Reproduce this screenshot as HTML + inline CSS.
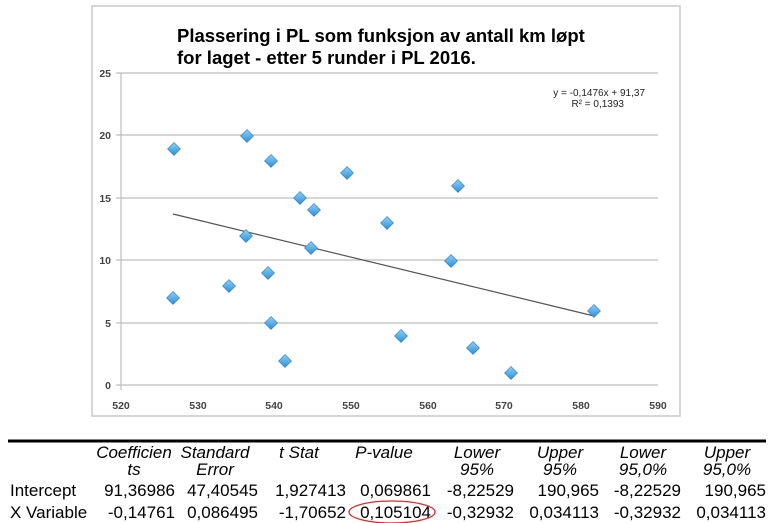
<!DOCTYPE html>
<html><head><meta charset="utf-8"><style>
body{margin:0;background:#fff;}
svg{display:block;font-family:"Liberation Sans",Arial,sans-serif;}
</style></head><body>
<svg width="768" height="523" viewBox="0 0 768 523">
<defs>
<linearGradient id="g" x1="0" y1="0" x2="0" y2="1"><stop offset="0" stop-color="#8fd0f5"/><stop offset="1" stop-color="#2f8fd6"/></linearGradient>
<symbol id="d" viewBox="-7 -7 14 14" overflow="visible"><polygon points="0,-6.5 6.5,0 0,6.5 -6.5,0" fill="url(#g)" stroke="#2a7cc0" stroke-width="0.6"/></symbol>
</defs>
<rect x="92" y="6" width="588" height="410" fill="#fff" stroke="#c8c8c8" stroke-width="1.5"/>
<text x="177" y="42" font-size="18.5" font-weight="bold" fill="#000">Plassering i PL som funksjon av antall km løpt</text>
<text x="177" y="64" font-size="18.5" font-weight="bold" fill="#000">for laget - etter 5 runder i PL 2016.</text>
<g stroke="#bdbdbd" stroke-width="1.2">
<line x1="116" y1="73" x2="658" y2="73"/><line x1="116" y1="135" x2="658" y2="135"/><line x1="116" y1="198" x2="658" y2="198"/><line x1="116" y1="260" x2="658" y2="260"/><line x1="116" y1="323" x2="658" y2="323"/><line x1="116" y1="385" x2="658" y2="385"/>
<line x1="121" y1="73" x2="121" y2="390"/>
</g>
<g font-size="10.5" font-weight="bold" fill="#444" text-anchor="end">
<text x="111" y="77">25</text><text x="111" y="139">20</text><text x="111" y="202">15</text><text x="111" y="264">10</text><text x="111" y="327">5</text><text x="111" y="389">0</text>
</g>
<g font-size="10.5" font-weight="bold" fill="#444" text-anchor="middle">
<text x="121" y="409">520</text><text x="198" y="409">530</text><text x="274" y="409">540</text><text x="351" y="409">550</text><text x="428" y="409">560</text><text x="504" y="409">570</text><text x="581" y="409">580</text><text x="658" y="409">590</text>
</g>
<text x="645" y="96" font-size="10" fill="#222" text-anchor="end">y = -0,1476x + 91,37</text>
<text x="624" y="107" font-size="10" fill="#222" text-anchor="end">R² = 0,1393</text>
<line x1="173" y1="214" x2="594" y2="316" stroke="#555" stroke-width="1.2"/>
<g>
<use href="#d" x="167" y="142" width="14" height="14"/>
<use href="#d" x="240" y="129" width="14" height="14"/>
<use href="#d" x="264" y="154" width="14" height="14"/>
<use href="#d" x="293" y="191" width="14" height="14"/>
<use href="#d" x="307" y="203" width="14" height="14"/>
<use href="#d" x="239" y="229" width="14" height="14"/>
<use href="#d" x="304" y="241" width="14" height="14"/>
<use href="#d" x="261" y="266" width="14" height="14"/>
<use href="#d" x="222" y="279" width="14" height="14"/>
<use href="#d" x="166" y="291" width="14" height="14"/>
<use href="#d" x="340" y="166" width="14" height="14"/>
<use href="#d" x="380" y="216" width="14" height="14"/>
<use href="#d" x="394" y="329" width="14" height="14"/>
<use href="#d" x="444" y="254" width="14" height="14"/>
<use href="#d" x="451" y="179" width="14" height="14"/>
<use href="#d" x="466" y="341" width="14" height="14"/>
<use href="#d" x="504" y="366" width="14" height="14"/>
<use href="#d" x="587" y="304" width="14" height="14"/>
<use href="#d" x="264" y="316" width="14" height="14"/>
<use href="#d" x="278" y="354" width="14" height="14"/>
</g>
<line x1="8" y1="441" x2="766" y2="441" stroke="#000" stroke-width="3"/>
<g font-size="17" font-style="italic" fill="#000" text-anchor="middle">
<text x="134" y="458">Coefficien</text><text x="134" y="475">ts</text>
<text x="215" y="458">Standard</text><text x="215" y="475">Error</text>
<text x="299" y="458">t Stat</text>
<text x="384" y="458">P-value</text>
<text x="477" y="458">Lower</text><text x="477" y="475">95%</text>
<text x="560" y="458">Upper</text><text x="560" y="475">95%</text>
<text x="643" y="458">Lower</text><text x="643" y="475">95,0%</text>
<text x="727" y="458">Upper</text><text x="727" y="475">95,0%</text>
</g>
<g font-size="17" fill="#000">
<text x="10" y="496">Intercept</text><text x="10" y="518">X Variable</text>
</g>
<g font-size="17" fill="#000" text-anchor="end">
<text x="175" y="496">91,36986</text><text x="258" y="496">47,40545</text><text x="346" y="496">1,927413</text><text x="431" y="496">0,069861</text><text x="514" y="496">-8,22529</text><text x="599" y="496">190,965</text><text x="681" y="496">-8,22529</text><text x="766" y="496">190,965</text>
<text x="175" y="518">-0,14761</text><text x="258" y="518">0,086495</text><text x="346" y="518">-1,70652</text><text x="431" y="518">0,105104</text><text x="514" y="518">-0,32932</text><text x="599" y="518">0,034113</text><text x="681" y="518">-0,32932</text><text x="766" y="518">0,034113</text>
</g>
<ellipse cx="392" cy="512" rx="43" ry="11" fill="none" stroke="#d03030" stroke-width="1.3"/>
</svg>
</body></html>
